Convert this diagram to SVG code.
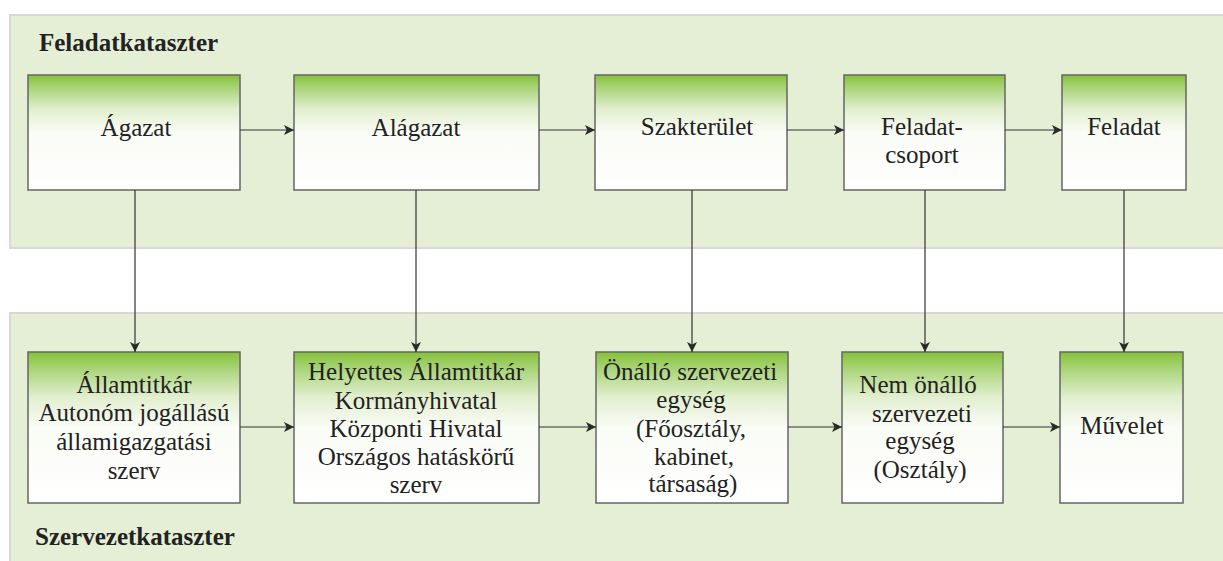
<svg xmlns="http://www.w3.org/2000/svg" width="1223" height="561" viewBox="0 0 1223 561">
  <defs>
    <linearGradient id="boxFill" x1="0" y1="0" x2="0" y2="1">
      <stop offset="0" stop-color="#86c23a"/>
      <stop offset="0.12" stop-color="#acd57c"/>
      <stop offset="0.3" stop-color="#e2efd0"/>
      <stop offset="0.5" stop-color="#fafcf6"/>
      <stop offset="1" stop-color="#ffffff"/>
    </linearGradient>
    <marker id="arrow" viewBox="0 0 10 10" refX="10" refY="5" markerWidth="10" markerHeight="10" markerUnits="userSpaceOnUse" orient="auto">
      <path d="M0,0 L10,5 L0,10 L2.5,5 Z" fill="#2a2a2a"/>
    </marker>
  </defs>
  <style>
    .panel { fill: #e4efd5; stroke: #d8d8d8; stroke-width: 2; }
    .box { fill: url(#boxFill); stroke: #666; stroke-width: 1.5; }
    .lbl { font-family: "Liberation Serif", "DejaVu Serif", serif; font-size: 25px; fill: #222; text-anchor: middle; }
    .title { font-family: "Liberation Serif", "DejaVu Serif", serif; font-size: 25px; font-weight: bold; fill: #222; }
    .conn { stroke: #333; stroke-width: 1.2; fill: none; marker-end: url(#arrow); }
  </style>

  <!-- background bands -->
  <rect class="panel" x="10" y="15" width="1220" height="233"/>
  <rect class="panel" x="10" y="313" width="1220" height="260"/>
  <text class="title" x="39" y="51">Feladatkataszter</text>
  <text class="title" x="35" y="545">Szervezetkataszter</text>

  <!-- task catalogue row -->
  <g id="agazat">
    <rect class="box" x="28" y="75" width="212" height="115"/>
    <text class="lbl" x="136" y="136">Ágazat</text>
  </g>
  <g id="alagazat">
    <rect class="box" x="294" y="75" width="245" height="115"/>
    <text class="lbl" x="416" y="136">Alágazat</text>
  </g>
  <g id="szakterulet">
    <rect class="box" x="595" y="75" width="192" height="115"/>
    <text class="lbl" x="697" y="135">Szakterület</text>
  </g>
  <g id="feladatcsoport">
    <rect class="box" x="844" y="75" width="161" height="115"/>
    <text class="lbl" x="922" y="135">Feladat-</text>
    <text class="lbl" x="922" y="163">csoport</text>
  </g>
  <g id="feladat">
    <rect class="box" x="1062" y="75" width="124" height="115"/>
    <text class="lbl" x="1124" y="135">Feladat</text>
  </g>

  <!-- organisation catalogue row -->
  <g id="allamtitkar">
    <rect class="box" x="28" y="352" width="212" height="151"/>
    <text class="lbl" x="134" y="393">Államtitkár</text>
    <text class="lbl" x="134" y="421">Autonóm jogállású</text>
    <text class="lbl" x="134" y="450">államigazgatási</text>
    <text class="lbl" x="134" y="479">szerv</text>
  </g>
  <g id="helyettes">
    <rect class="box" x="294" y="352" width="245" height="151"/>
    <text class="lbl" x="416" y="380">Helyettes Államtitkár</text>
    <text class="lbl" x="416" y="409">Kormányhivatal</text>
    <text class="lbl" x="416" y="437">Központi Hivatal</text>
    <text class="lbl" x="416" y="465">Országos hatáskörű</text>
    <text class="lbl" x="416" y="493">szerv</text>
  </g>
  <g id="onallo">
    <rect class="box" x="596" y="352" width="192" height="151"/>
    <text class="lbl" x="690" y="380">Önálló szervezeti</text>
    <text class="lbl" x="691" y="408">egység</text>
    <text class="lbl" x="691" y="437">(Főosztály,</text>
    <text class="lbl" x="694" y="465">kabinet,</text>
    <text class="lbl" x="693" y="492">társaság)</text>
  </g>
  <g id="nemonallo">
    <rect class="box" x="842" y="352" width="161" height="151"/>
    <text class="lbl" x="918" y="393">Nem önálló</text>
    <text class="lbl" x="922" y="422">szervezeti</text>
    <text class="lbl" x="920" y="449">egység</text>
    <text class="lbl" x="920" y="478">(Osztály)</text>
  </g>
  <g id="muvelet">
    <rect class="box" x="1060" y="352" width="123" height="151"/>
    <text class="lbl" x="1122" y="434">Művelet</text>
  </g>

  <!-- connectors -->
  <g id="connectors">
    <line class="conn" x1="240" y1="130" x2="294" y2="130"/>
    <line class="conn" x1="539" y1="130" x2="595" y2="130"/>
    <line class="conn" x1="787" y1="130" x2="844" y2="130"/>
    <line class="conn" x1="1005" y1="130" x2="1062" y2="130"/>

    <line class="conn" x1="240" y1="427" x2="294" y2="427"/>
    <line class="conn" x1="539" y1="427" x2="596" y2="427"/>
    <line class="conn" x1="788" y1="427" x2="842" y2="427"/>
    <line class="conn" x1="1003" y1="427" x2="1060" y2="427"/>

    <line class="conn" x1="135" y1="190" x2="135" y2="352"/>
    <line class="conn" x1="416" y1="190" x2="416" y2="352"/>
    <line class="conn" x1="692" y1="190" x2="692" y2="352"/>
    <line class="conn" x1="925" y1="190" x2="925" y2="352"/>
    <line class="conn" x1="1124" y1="190" x2="1124" y2="352"/>
  </g>
</svg>
